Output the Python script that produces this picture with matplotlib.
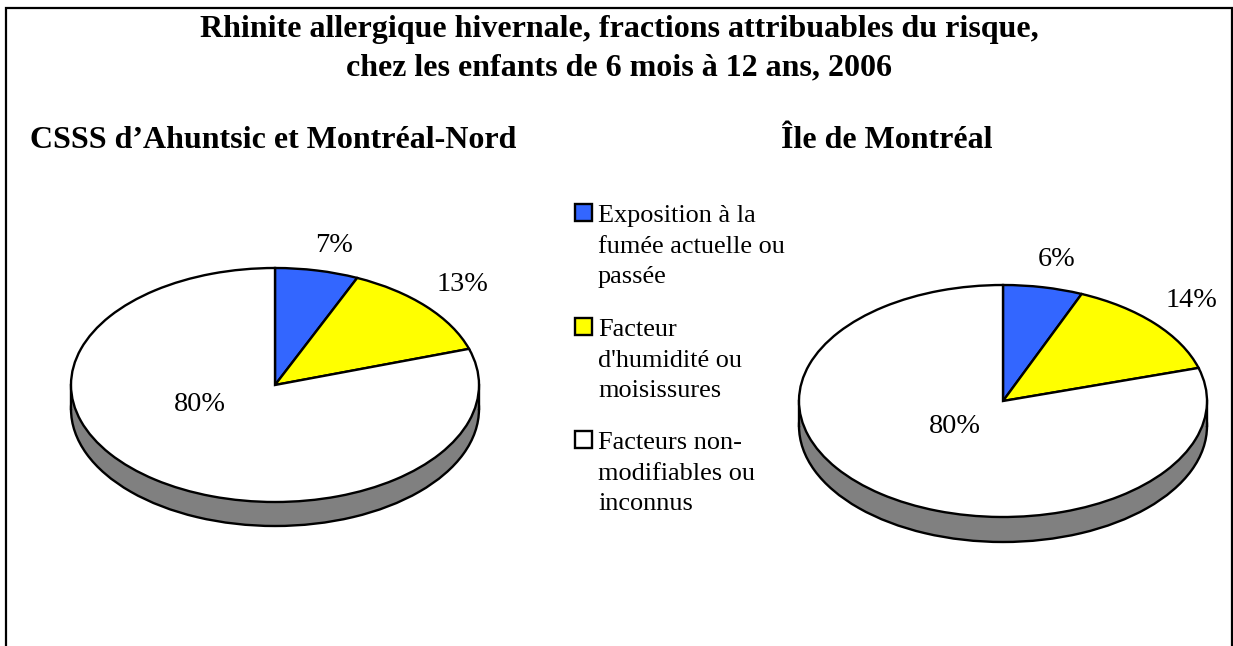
import matplotlib

matplotlib.use("Agg")
import matplotlib.pyplot as plt
from matplotlib.patches import Rectangle

plt.rcParams["font.family"] = ["Liberation Serif", "DejaVu Serif"]

W, H = 1233, 646

title = "Rhinite allergique hivernale, fractions attribuables du risque,\nchez les enfants de 6 mois à 12 ans, 2006"
left_name = "CSSS d’Ahuntsic et Montréal-Nord"
right_name = "Île de Montréal"
categories = [
    "Exposition à la\nfumée actuelle ou\npassée",
    "Facteur\nd'humidité ou\nmoisissures",
    "Facteurs non-\nmodifiables ou\ninconnus",
]
colors = ["#3366FF", "#FFFF00", "#FFFFFF"]
left_values = [6.6, 13.4, 80.0]
right_values = [6.3, 14.1, 79.6]


def fx(x):
    return x / W


def fy(y):
    return 1 - y / H


def draw_pie(values, cx, cy, rx, ry, depth):
    # axes stretched so that the unit pie comes out as a flat ellipse
    d = depth / ry
    ax = fig.add_axes([fx(cx - rx - 3), fy(cy + ry + depth + 3), (2 * rx + 6) / W, (2 * ry + depth + 6) / H])
    ax.pie([1], colors=["#808080"], center=(0, -d), radius=1,
           wedgeprops={"edgecolor": "black", "linewidth": 1.7})
    ax.add_patch(Rectangle((-1, -d), 2, d, facecolor="#808080", edgecolor="none", zorder=2))
    ax.plot([-1, -1], [0, -d], color="black", lw=1.7, zorder=3)
    ax.plot([1, 1], [0, -d], color="black", lw=1.7, zorder=3)
    ax.pie(values, colors=colors, startangle=90, counterclock=False, radius=1,
           wedgeprops={"edgecolor": "black", "linewidth": 1.7, "zorder": 4})
    ax.set_aspect("auto")
    ax.set_xlim(-1 - 3 / rx, 1 + 3 / rx)
    ax.set_ylim(-1 - d - 3 / ry, 1 + 3 / ry)
    return ax


fig = plt.figure(figsize=(W / 100, H / 100), dpi=100, facecolor="white")

# frame runs off the bottom of the picture
fig.add_artist(Rectangle((fx(5.5), fy(660)), (1231.7 - 5.5) / W, 652 / H, transform=fig.transFigure,
                         facecolor="none", edgecolor="black", lw=1.6))

title_lines = title.split("\n")
fig.text(fx(619.5), fy(37), title_lines[0], ha="center", va="baseline", fontsize=23, fontweight="bold")
fig.text(fx(619), fy(75), title_lines[1], ha="center", va="baseline", fontsize=23, fontweight="bold")
fig.text(fx(29.5), fy(148), left_name, ha="left", va="baseline", fontsize=23, fontweight="bold")
fig.text(fx(781), fy(148), right_name, ha="left", va="baseline", fontsize=23, fontweight="bold")

draw_pie(left_values, 275, 385, 204, 117, 24)
draw_pie(right_values, 1003, 401, 204, 116, 25)

left_pos = [(334.5, 252), (462.5, 291), (200, 411)]
right_pos = [(1057, 266), (1191, 307), (955, 433)]
for vals, pos in [(left_values, left_pos), (right_values, right_pos)]:
    for v, (x, y) in zip(vals, pos):
        fig.text(fx(x), fy(y), f"{v:.0f}%", ha="center", va="baseline", fontsize=20.3)

# legend
for name, col, y in zip(categories, colors, [222, 336, 449]):
    fig.add_artist(Rectangle((fx(574.5), fy(y - 1)), 17 / W, 17 / H, transform=fig.transFigure,
                             facecolor=col, edgecolor="black", lw=1.7))
    for i, line in enumerate(name.split("\n")):
        fig.text(fx(598), fy(y + i * 30.7), line, ha="left", va="baseline", fontsize=18.9)

fig.savefig("out.png", dpi=100)
